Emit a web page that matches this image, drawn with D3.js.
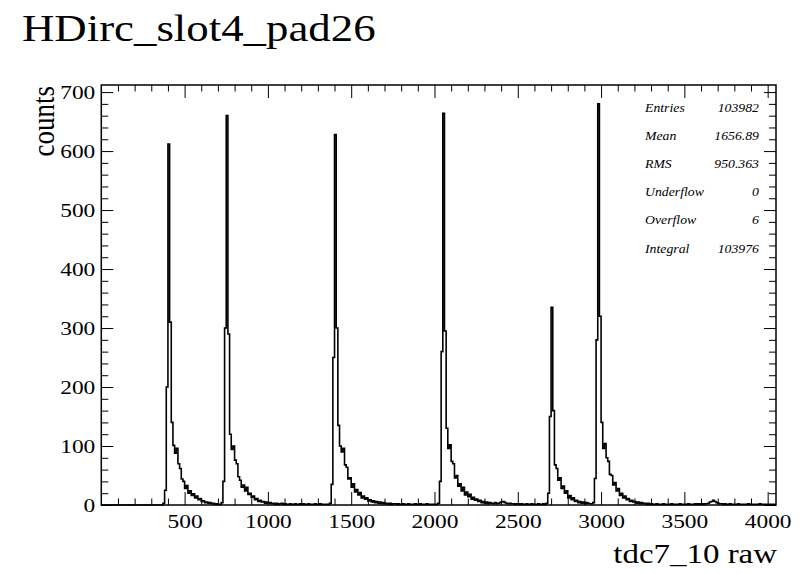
<!DOCTYPE html>
<html>
<head>
<meta charset="utf-8">
<script src="https://cdn.jsdelivr.net/npm/d3@7"></script>
<style>
  body { margin: 0; background: #fff; }
  text { font-family: "Liberation Serif", "Times New Roman", serif; fill: #000; }
</style>
</head>
<body>
<svg id="chart" width="802" height="573"></svg>
<script>
const title = "HDirc_slot4_pad26"
const xTitle = "tdc7_10 raw"
const yTitle = "counts"

// histogram: bins of 10 starting at 0
const binLow = 0
const binWidth = 10
const counts = [
  0,0,0,0,0,0,0,0,0,0,0,0,0,0,0,0,0,0,0,0,
  0,0,0,0,0,0,0,0,0,0,0,0,0,0,0,0,0,3,25,200,
  612,310,140,101,88,96,70,62,44,40,28,33,20,24,16,19,12,15,9,11,
  6,7,4,5,3,4,2,3,1,2,1,1,4,40,300,660,290,120,94,100,
  76,70,48,42,30,34,24,30,18,20,13,15,9,11,6,8,5,6,3,5,
  3,4,2,3,1,3,1,2,3,1,2,1,1,2,1,1,2,1,1,2,
  1,2,1,1,2,1,1,1,2,1,1,2,1,1,1,1,1,3,35,250,
  628,300,135,100,90,96,68,64,44,46,30,36,22,26,17,21,12,15,10,12,
  7,9,5,7,4,6,3,5,2,4,2,3,1,3,1,2,2,1,2,1,
  1,2,1,1,2,1,1,1,2,1,1,2,1,1,1,2,1,1,1,1,
  1,1,3,40,260,664,295,130,96,102,74,70,46,50,32,36,24,30,17,22,
  14,18,10,13,8,10,6,8,4,6,3,5,2,4,3,2,4,2,3,4,
  5,6,4,3,2,3,2,2,1,2,2,1,2,1,1,2,1,1,2,1,
  1,1,2,1,1,2,1,3,20,150,335,160,68,62,42,46,28,32,20,24,
  12,16,9,12,6,8,4,6,3,5,2,4,3,2,2,4,45,280,680,320,
  140,96,104,80,74,52,50,34,38,24,28,16,20,12,15,9,11,6,8,5,
  6,3,5,2,4,2,3,1,3,1,2,1,1,2,1,1,1,2,1,1,
  1,1,2,1,1,1,1,2,1,1,1,1,2,1,1,1,2,1,2,1,
  2,1,2,2,3,5,6,8,6,4,3,2,2,1,2,1,1,2,1,1,
  1,1,2,1,1,1,1,1,2,1,1,1,1,1,1,2,1,1,1,1,
  1,1,0,1,0
]

const xTickValues = [500, 1000, 1500, 2000, 2500, 3000, 3500, 4000]
const yTickValues = [0, 100, 200, 300, 400, 500, 600, 700]

const statNames = ["Entries", "Mean", "RMS", "Underflow", "Overflow", "Integral"]
const statValues = ["103982", "1656.89", "950.363", "0", "6", "103976"]

const svg = d3.select("#chart")

const frameLeft = 101.3
const frameRight = 776
const frameTop = 85
const frameBottom = 505

const x = d3.scaleLinear().domain([0, 4050]).range([frameLeft, frameRight])
const y = d3.scaleLinear().domain([0, 712]).range([frameBottom, frameTop])

// text is stretched sideways in the picture, so scale x a bit
function label(str, px, py, size, sx, anchor) {
  return svg.append("text")
    .attr("transform", `translate(${px},${py}) scale(${sx},1)`)
    .attr("text-anchor", anchor)
    .style("font-size", size + "px")
    .text(str)
}

// minor tick positions
const xMinor = d3.range(100, 4050, 100).filter(v => v % 500 != 0)
const yMinor = d3.range(20, 712, 20).filter(v => v % 100 != 0)

function drawAxis(axis, tx, ty) {
  const g = svg.append("g")
    .attr("transform", `translate(${tx},${ty})`)
    .call(axis)
  g.select(".domain").remove()
  g.selectAll("line").attr("stroke", "#000").attr("stroke-width", 1)
  return g
}

// bottom axis with labels
const gx = drawAxis(d3.axisBottom(x).tickValues(xTickValues).tickSize(-13).tickPadding(9).tickFormat(d3.format("d")), 0, frameBottom)
gx.selectAll("text")
  .attr("fill", "#000")
  .style("font-size", "19.5px")
  .style("font-family", '"Liberation Serif", serif')
  .attr("transform", "scale(1.2,1)")
drawAxis(d3.axisBottom(x).tickValues(xMinor).tickSize(-6.5).tickFormat(""), 0, frameBottom)
// top axis mirrored
drawAxis(d3.axisTop(x).tickValues(xTickValues).tickSize(-13).tickFormat(""), 0, frameTop)
drawAxis(d3.axisTop(x).tickValues(xMinor).tickSize(-6.5).tickFormat(""), 0, frameTop)

// left axis with labels
const gy = drawAxis(d3.axisLeft(y).tickValues(yTickValues).tickSize(-12).tickPadding(5).tickFormat(d3.format("d")), frameLeft, 0)
gy.selectAll("text")
  .attr("fill", "#000")
  .style("font-size", "19.5px")
  .style("font-family", '"Liberation Serif", serif')
  .attr("transform", "scale(1.2,1)")
drawAxis(d3.axisLeft(y).tickValues(yMinor).tickSize(-7).tickFormat(""), frameLeft, 0)
// right axis mirrored
drawAxis(d3.axisRight(y).tickValues(yTickValues).tickSize(-12).tickFormat(""), frameRight, 0)
drawAxis(d3.axisRight(y).tickValues(yMinor).tickSize(-7).tickFormat(""), frameRight, 0)

// histogram outline
const pts = counts.map((c, i) => [binLow + i * binWidth, c])
pts.push([binLow + counts.length * binWidth, 0])
svg.append("path")
  .datum(pts)
  .attr("fill", "none")
  .attr("stroke", "#000")
  .attr("stroke-width", 1.6)
  .attr("d", d3.line().x(d => x(d[0])).y(d => y(d[1])).curve(d3.curveStepAfter))

// frame
svg.append("rect")
  .attr("x", frameLeft)
  .attr("y", frameTop)
  .attr("width", frameRight - frameLeft)
  .attr("height", frameBottom - frameTop)
  .attr("fill", "none")
  .attr("stroke", "#000")
  .attr("stroke-width", 1.5)

// titles
label(title, 22, 41, 38, 1.18, "start")
label(xTitle, 777, 563, 27, 1.22, "end")
svg.append("text")
  .attr("transform", "translate(54,86) scale(1.2,1) rotate(-90)")
  .attr("text-anchor", "end")
  .style("font-size", "27px")
  .text(yTitle)

// stats box
statNames.forEach((name, i) => {
  label(name, 645, 111.5 + i * 28.2, 13.5, 1.02, "start").style("font-style", "italic")
  label(statValues[i], 759, 111.5 + i * 28.2, 13.5, 1.02, "end").style("font-style", "italic")
})
</script>
</body>
</html>
